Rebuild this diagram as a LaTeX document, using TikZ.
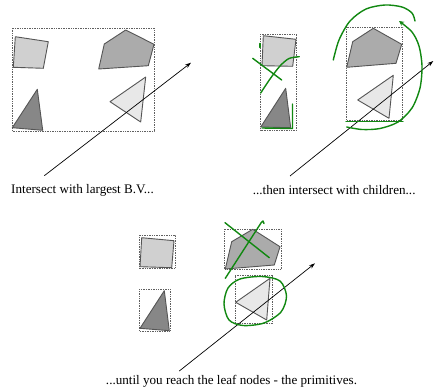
\documentclass[tikz,border=0pt]{standalone}
\usepackage{fontspec}
\setmainfont{Liberation Serif}
\usetikzlibrary{arrows.meta}
\definecolor{lightfill}{HTML}{D0D0D0}
\definecolor{pentfill}{HTML}{ABABAB}
\definecolor{trifill}{HTML}{E8E8E8}
\definecolor{darkfill}{HTML}{878787}
\definecolor{edgegray}{HTML}{555555}
\definecolor{boxgray}{HTML}{606060}
\definecolor{pen}{HTML}{118811}
\tikzset{
  poly/.style={draw=edgegray, line width=0.9pt, line join=round},
  bvbox/.style={draw=boxgray, line width=0.7pt, dash pattern=on 0.8pt off 0.9pt},
  ray/.style={draw=black, line width=0.7pt, -{Stealth[length=6pt,width=4pt]}},
  ink/.style={draw=pen, line width=1.4pt, line cap=round, line join=round},
  caption/.style={font=\fontsize{13.1}{15}\selectfont, inner sep=0pt, anchor=center}
}
\begin{document}
\begin{tikzpicture}[x=1pt,y=-1pt]
\useasboundingbox (0,0) rectangle (437,391);
\fill[white] (0,0) rectangle (437,391);

% ---------- Panel 1 ----------
\draw[bvbox] (12,28) rectangle (154,131);
\draw[poly, fill=lightfill] (15.3,36.7) -- (48.3,41.7) -- (43.3,68.3) -- (13.3,67.3) -- cycle;
\draw[poly, fill=pentfill] (104.3,44) -- (125.7,30) -- (154,44.3) -- (148.3,65.7) -- (98.7,69) -- cycle;
\draw[poly, fill=trifill] (110,101.7) -- (145.7,77) -- (140.7,122) -- cycle;
\draw[poly, fill=darkfill] (37.3,89.3) -- (42.7,130.3) -- (12.3,127.7) -- cycle;
\coordinate (r1s) at (44.3,175.7);
\coordinate (r1e) at (191,62.7);
\draw[ray] (r1s) -- (r1e);
\node[caption] (c1) at (82.5,190.5) {Intersect with largest B.V...};

% ---------- Panel 2 ----------
\draw[bvbox] (260.7,34.3) rectangle (296.7,130);
\draw[poly, fill=lightfill] (263.3,35.7) -- (296,39.3) -- (292.7,66.3) -- (262,65.7) -- cycle;
\draw[poly, fill=darkfill] (285.7,88.3) -- (290.7,127.7) -- (260.7,127) -- cycle;
\draw[bvbox] (346,27.3) rectangle (402.7,120);
\draw[poly, fill=pentfill] (352.7,41.7) -- (373.3,28.3) -- (401.7,44.3) -- (396,63.3) -- (346.7,67.3) -- cycle;
\draw[poly, fill=trifill] (357.7,100) -- (393.3,75.3) -- (389,118.3) -- cycle;
\coordinate (r2s) at (290,176);
\coordinate (r2e) at (433.3,61);
\draw[ray] (r2s) -- (r2e);
\node[caption] (c2) at (334.2,190.5) {...then intersect with children...};
% green marks panel 2
\draw[ink] (252.7,58.3) -- (281.7,80);
\draw[ink] plot[smooth] coordinates {(260.7,93) (270,79) (280,66) (289,58.5) (299.3,56.7)};
\draw[ink] (260,43.5) -- (260,47.5);
\draw[ink] (262,128) -- (292.5,128.5) -- (292.5,104);
\draw[ink] plot[smooth] coordinates {(333.3,60) (339,40) (350,21) (366,9) (385,5) (402,7) (412,13) (415,21)};
\draw[ink, -{Stealth[length=5pt,width=5pt]}] plot[smooth] coordinates {(346.7,127) (362,129.5) (380,128.5) (398,122) (412,108) (420,88) (422,66) (419,46) (412,32) (399,21)};
\draw[ink] (346,121.7) -- (403,121.7);

% ---------- Panel 3 ----------
\draw[bvbox] (139,235.3) rectangle (175,268.3);
\draw[poly, fill=lightfill] (141.7,237.7) -- (174,240.7) -- (171.7,267.7) -- (140,266.7) -- cycle;
\draw[bvbox] (139,289.3) rectangle (170,331);
\draw[poly, fill=darkfill] (164.3,290.7) -- (169.3,330.7) -- (140,328.3) -- cycle;
\draw[bvbox] (224.3,229.3) rectangle (281,269.3);
\draw[poly, fill=pentfill] (231.7,241.7) -- (252.7,229.3) -- (280,246.7) -- (274.3,265) -- (225.3,269) -- cycle;
\draw[bvbox] (235,275.7) rectangle (272.7,323.3);
\draw[poly, fill=trifill] (235.7,302.3) -- (270,278.3) -- (266.7,320) -- cycle;
\coordinate (r3s) at (179.3,371);
\coordinate (r3e) at (315,263.3);
\draw[ray] (r3s) -- (r3e);
\node[caption] (c3) at (231.5,381.5) {...until you reach the leaf nodes - the primitives.};
% green marks panel 3
\draw[ink] (225,222.7) -- (269.3,257.7);
\draw[ink] (225.3,278.3) -- (261.3,222.5) -- (263,221) -- (264,223.5);
\draw[ink] plot[smooth cycle] coordinates {(240,279) (262,276.5) (280,281) (286.5,296) (281,312) (264,323) (243,325.5) (229,320) (224,304) (228,288)};
\end{tikzpicture}
\end{document}
